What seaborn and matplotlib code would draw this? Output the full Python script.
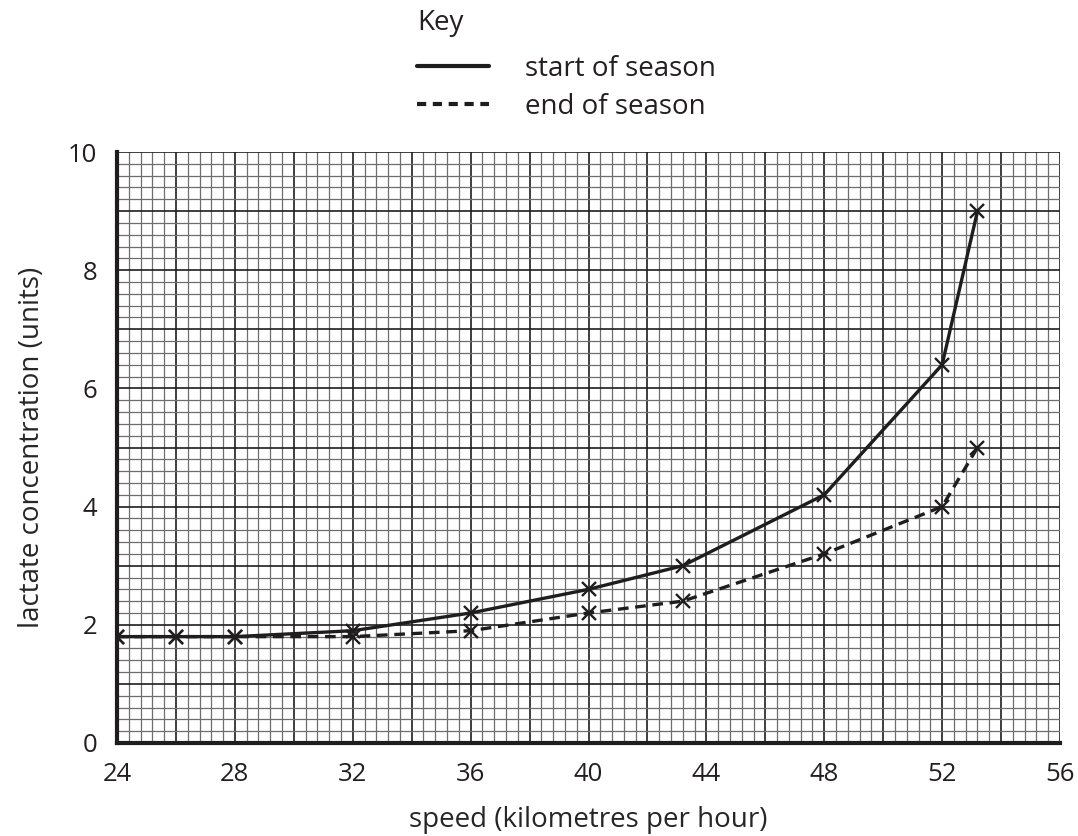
import numpy as np
import pandas as pd
import matplotlib
matplotlib.use("Agg")
import matplotlib.pyplot as plt
from matplotlib.lines import Line2D
import seaborn as sns

# values
start_speed = [24, 26, 28, 32, 36, 40, 43.2, 48, 52, 53.2]
start_lactate = [1.8, 1.8, 1.8, 1.9, 2.2, 2.6, 3.0, 4.2, 6.4, 9.0]
end_speed = [24, 26, 28, 32, 36, 40, 43.2, 48, 52, 53.2]
end_lactate = [1.8, 1.8, 1.8, 1.8, 1.9, 2.2, 2.4, 3.2, 4.0, 5.0]

x_labels = [24, 28, 32, 36, 40, 44, 48, 52, 56]
y_labels = [0, 2, 4, 6, 8, 10]

ink = "#1f1d1e"

sns.set_style("white")
plt.rcParams["font.family"] = ["Open Sans", "DejaVu Sans"]
plt.rcParams["text.color"] = "#231f20"

start_df = pd.DataFrame({"speed": start_speed, "lactate": start_lactate})
end_df = pd.DataFrame({"speed": end_speed, "lactate": end_lactate})

fig = plt.figure(figsize=(10.78, 8.36), dpi=100)
ax = fig.add_axes([117 / 1078, 93 / 836, 943 / 1078, 591 / 836])

# graph paper
ax.set_xlim(24, 56)
ax.set_ylim(0, 10)
ax.set_xticks(np.arange(24, 56.01, 2))
ax.set_yticks(np.arange(0, 10.01, 1))
ax.set_xticks(np.arange(24, 56.01, 0.4), minor=True)
ax.set_yticks(np.arange(0, 10.01, 0.2), minor=True)
ax.set_xticklabels([str(v) if v in x_labels else "" for v in range(24, 57, 2)])
ax.set_yticklabels([str(v) if v in y_labels else "" for v in range(0, 11)])
ax.grid(which="minor", color="#6e6e6e", linewidth=0.9)
ax.grid(which="major", color=ink, linewidth=1.2)
ax.set_axisbelow(True)

for side in ["top", "right"]:
    ax.spines[side].set_visible(False)
for side in ["left", "bottom"]:
    ax.spines[side].set_linewidth(3)
    ax.spines[side].set_color(ink)

ax.tick_params(which="major", direction="out", length=9, width=1.5,
               color=ink, labelsize=18.5, pad=5, labelcolor="#231f20")
ax.tick_params(which="minor", length=0)

sns.lineplot(data=end_df, x="speed", y="lactate", ax=ax, color=ink,
             linewidth=2.4, linestyle=(0, (3.2, 2.0)), marker="x",
             markersize=10.5, markeredgewidth=1.7, markeredgecolor=ink,
             zorder=3)
sns.lineplot(data=start_df, x="speed", y="lactate", ax=ax, color=ink,
             linewidth=2.4, marker="x", markersize=10.5, markeredgewidth=1.7,
             markeredgecolor=ink, zorder=4)

ax.set_xlabel("speed (kilometres per hour)", fontsize=20, labelpad=13)
ax.set_ylabel("lactate concentration (units)", fontsize=20, labelpad=16)

# key
fig.text(417 / 1078, 1 - 9 / 836, "Key", fontsize=20, ha="left", va="top")
handles = [
    Line2D([], [], color=ink, linewidth=3),
    Line2D([], [], color=ink, linewidth=3, linestyle=(0, (2.2, 1.6))),
]
fig.legend(handles, ["start of season", "end of season"],
           loc="upper left", bbox_to_anchor=(417 / 1078, 1 - 55 / 836),
           frameon=False, fontsize=20, handlelength=2.6, handletextpad=1.3,
           labelspacing=0.35, borderpad=0.0, borderaxespad=0.0)

fig.savefig("out.png", dpi=100)
